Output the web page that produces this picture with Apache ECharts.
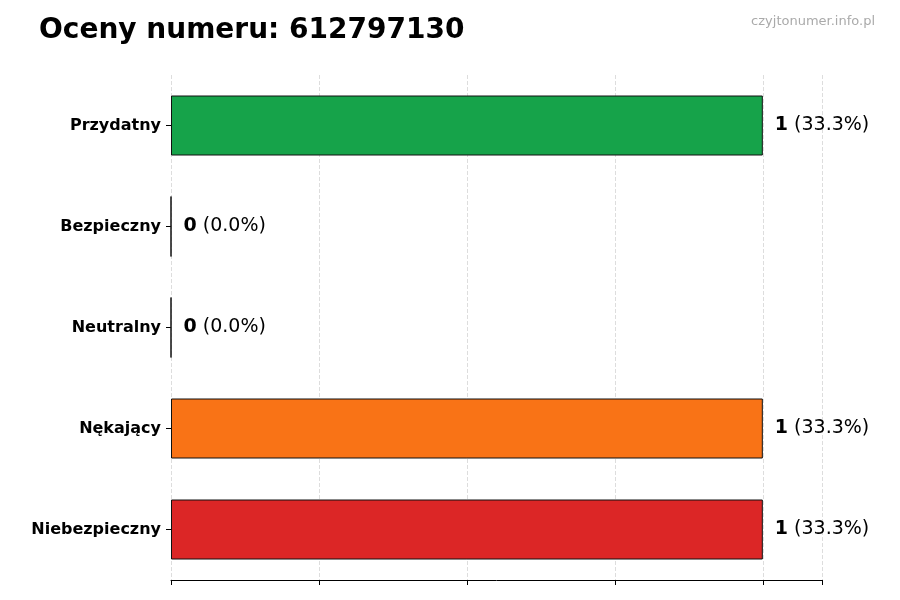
<!DOCTYPE html>
<html>
<head>
<meta charset="utf-8">
<script src="https://cdn.jsdelivr.net/npm/echarts@6/dist/echarts.min.js"></script>
<style>html,body{margin:0;padding:0;background:#fff}#chart{width:900px;height:600px}</style>
</head>
<body>
<div id="chart"></div>
<script>
var categories = ['Przydatny', 'Bezpieczny', 'Neutralny', 'Nękający', 'Niebezpieczny'];
var counts = [1, 0, 0, 1, 1];
var percents = ['33.3%', '0.0%', '0.0%', '33.3%', '33.3%'];
var colors = ['#16a34a', '#16a34a', '#9ca3af', '#f97316', '#dc2626'];

var myChart = echarts.init(document.getElementById('chart'));
var option = {
    backgroundColor: '#fff',
    title: [{
        text: 'Oceny numeru: 612797130',
        left: 34, top: 12,
        textStyle: { fontSize: 28, fontWeight: 'bold', color: '#000', fontFamily: 'DejaVu Sans' }
    }, {
        text: 'czyjtonumer.info.pl',
        right: 20, top: 10,
        textStyle: { fontSize: 13, fontWeight: 'normal', color: '#aaa', fontFamily: 'DejaVu Sans' }
    }],
    grid: { left: 171, right: 78, top: 75, bottom: 20, containLabel: false },
    xAxis: {
        type: 'value', min: 0, max: 1.1, interval: 0.25,
        axisLabel: { show: false },
        axisLine: { show: true, lineStyle: { color: '#000' } },
        axisTick: { show: true, length: 5, lineStyle: { color: '#000' } },
        splitLine: { show: true, lineStyle: { type: 'dashed', color: '#ddd' } }
    },
    yAxis: {
        type: 'category', inverse: true, data: categories,
        axisLine: { show: false },
        axisTick: { show: true, alignWithLabel: true, length: 5, lineStyle: { color: '#000' } },
        axisLabel: { fontSize: 16, fontWeight: 'bold', color: '#000', fontFamily: 'DejaVu Sans', margin: 10 }
    },
    series: [{
        type: 'bar',
        barWidth: 60,
        data: counts.map(function (v, i) {
            return { value: v, itemStyle: { color: colors[i], borderColor: '#111', borderWidth: 1 } };
        }),
        label: {
            show: true, position: 'right', distance: 12,
            formatter: function (p) { return '{b|' + p.value + '} (' + percents[p.dataIndex] + ')'; },
            fontSize: 19, color: '#000', fontFamily: 'DejaVu Sans',
            rich: { b: { fontSize: 19, fontWeight: 'bold', color: '#000', fontFamily: 'DejaVu Sans' } }
        }
    }]
};
myChart.setOption(option);
</script>
</body>
</html>
